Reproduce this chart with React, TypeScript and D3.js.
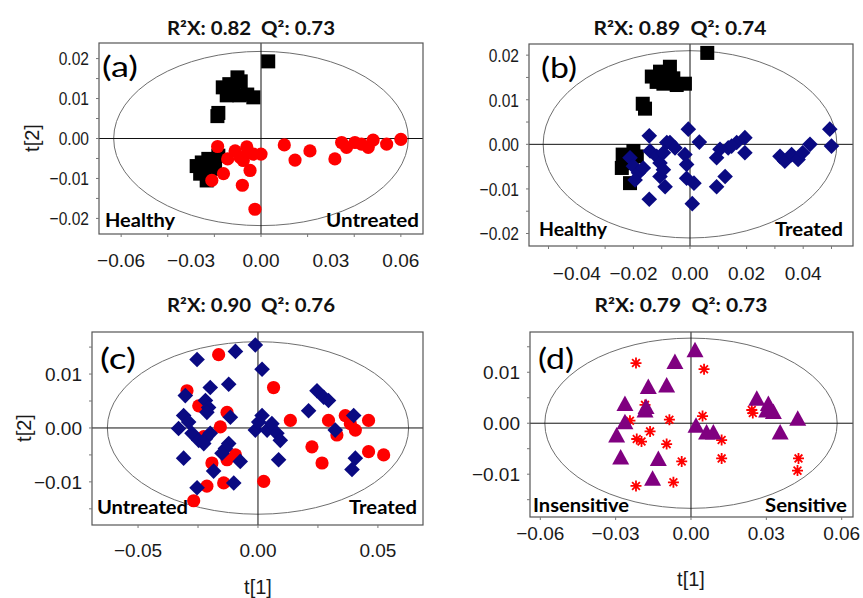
import React from "react";
import * as d3 from "d3";

type Pt = [number, number];

// Panel (a): Healthy vs Untreated
const aHealthy: Pt[] = [
  [0.0031, 0.0193], [-0.0164, 0.0128], [-0.0136, 0.0136], [-0.0101, 0.0153], [-0.0087, 0.0143],
  [-0.0126, 0.0122], [-0.0147, 0.0108], [-0.0093, 0.0108], [-0.0059, 0.011], [-0.0033, 0.0103],
  [-0.0119, 0.011], [-0.0187, 0.0056], [-0.0183, 0.0064],
  [-0.0276, -0.0069], [-0.0254, -0.006], [-0.0226, -0.0051], [-0.0204, -0.0064], [-0.024, -0.008],
  [-0.0261, -0.0088], [-0.0233, -0.0105], [-0.0197, -0.0076], [-0.0219, -0.0072], [-0.0183, -0.0043],
];
const aUntreated: Pt[] = [
  [-0.0186, -0.002], [-0.0143, -0.0051], [-0.0111, -0.0031], [-0.009, -0.0047], [-0.0061, -0.0021],
  [-0.0054, -0.0035], [-0.0033, -0.0039], [0.0, -0.0039], [-0.0047, -0.008], [-0.0161, -0.0088],
  [-0.0211, -0.0105], [-0.008, -0.0117], [-0.0026, -0.0177], [-0.0076, -0.0055], [0.01, -0.0016],
  [0.0146, -0.0054], [0.021, -0.0031], [0.0317, -0.0051], [0.0346, -0.001], [0.0367, -0.0022],
  [0.0403, -0.001], [0.0431, -0.0014], [0.046, -0.0022], [0.0481, -0.0004], [0.0539, -0.0014],
  [0.06, -0.0002],
];

// Panel (b): Healthy vs Treated
const bHealthy: Pt[] = [
  [0.0061, 0.0205], [-0.0135, 0.0152], [-0.0106, 0.0163], [-0.0071, 0.0174], [-0.0082, 0.0152],
  [-0.0118, 0.014], [-0.0094, 0.0136], [-0.0047, 0.0133], [-0.0018, 0.0136], [-0.0059, 0.0148],
  [-0.0167, 0.0091], [-0.0159, 0.008],
  [-0.0238, -0.0023], [-0.0224, -0.0042], [-0.0241, -0.0053], [-0.0206, -0.0034], [-0.0212, -0.0087],
  [-0.02, -0.0015], [-0.0188, -0.0027],
];
const bTreated: Pt[] = [
  [-0.0144, 0.0019], [-0.0141, -0.0015], [-0.0212, -0.003], [-0.02, -0.0049], [-0.0182, -0.0064],
  [-0.0194, -0.008], [-0.0165, -0.0053], [-0.0144, -0.0123], [-0.0118, -0.0027], [-0.0106, -0.0042],
  [-0.0094, -0.0019], [-0.0082, 0.0004], [-0.0071, 0.0004], [-0.0053, -0.0008], [-0.0106, -0.0072],
  [-0.0088, -0.0095], [-0.0094, -0.0057], [-0.0018, -0.0023], [-0.0012, -0.0045], [-0.0012, -0.0076],
  [0.0014, -0.0087], [0.0008, -0.0133], [-0.0006, 0.0034], [0.0033, 0.0005], [0.0094, -0.003],
  [0.0124, -0.0072], [0.0094, -0.0095], [0.0135, -0.0008], [0.0165, 0.0004], [0.0194, 0.0015],
  [0.0194, -0.0019], [0.0318, -0.0027], [0.0335, -0.0038], [0.0359, -0.0023], [0.0382, -0.0034],
  [0.0398, -0.0019], [0.0424, 0.0], [0.0494, 0.0034], [0.05, -0.0004], [0.0147, -0.0004],
  [0.0106, -0.0011],
];

// Panel (c): Untreated vs Treated
const cUntreated: Pt[] = [
  [-0.0164, 0.0136], [0.0065, 0.0075], [-0.0296, 0.0069], [-0.0247, 0.0041], [-0.0129, 0.0029],
  [-0.0157, 0.0002], [-0.0226, -0.0016], [-0.0094, -0.005], [-0.0129, -0.0059], [-0.0192, -0.0065],
  [-0.0143, -0.0102], [-0.0213, -0.0108], [-0.0268, -0.0135], [0.0024, -0.0099], [0.0135, 0.0014],
  [0.0225, -0.0035], [0.0267, -0.0065], [0.0294, 0.0014], [0.0329, -0.0013], [0.0364, 0.0023],
  [0.0385, 0.0008], [0.0406, -0.0004], [0.0461, 0.0014], [0.0461, -0.0044], [0.0524, -0.005],
];
const cTreated: Pt[] = [
  [-0.0011, 0.0154], [-0.0094, 0.0142], [-0.0254, 0.0127], [0.0017, 0.0109], [-0.0122, 0.0081],
  [-0.0199, 0.0075], [-0.0303, 0.006], [-0.0219, 0.0051], [-0.0206, 0.0038], [-0.0213, 0.0029],
  [-0.031, 0.0023], [-0.0115, 0.002], [-0.0331, -0.0001], [-0.0289, 0.0011], [-0.0275, -0.001],
  [-0.0247, -0.0023], [-0.0219, -0.002], [-0.0199, -0.001], [-0.0226, -0.0029], [-0.031, -0.0056],
  [-0.0122, -0.0029], [-0.0136, -0.0038], [-0.015, -0.0047], [-0.0074, -0.0062], [-0.0185, -0.008],
  [-0.0101, -0.0102], [-0.0254, -0.0111], [0.0017, 0.0023], [-0.0011, -0.0004], [0.0038, -0.0004],
  [0.0058, 0.0008], [0.0079, -0.001], [0.0093, -0.0023], [0.0086, -0.0059], [0.0003, 0.0011],
  [0.0246, 0.0069], [0.0211, 0.0032], [0.0274, 0.0057], [0.0294, 0.0051], [0.0322, -0.0004],
  [0.0399, 0.0023], [0.0406, -0.0056], [0.0392, -0.0077],
];

// Panel (d): Insensitive vs Sensitive
const dTriangles: Pt[] = [
  [0.0016, 0.0141], [-0.0064, 0.0118], [-0.017, 0.0069], [-0.0097, 0.0072], [-0.0263, 0.0036],
  [-0.0179, 0.003], [-0.0183, 0.0023], [-0.0263, 0.0], [-0.0296, -0.0026], [-0.028, -0.0069],
  [-0.013, -0.0072], [-0.0153, -0.0111], [0.002, -0.0007], [0.0062, -0.002], [0.0089, -0.002],
  [0.0262, 0.0046], [0.0308, 0.0036], [0.0301, 0.0023], [0.0328, 0.002], [0.0355, -0.002],
  [0.0425, 0.0007],
];
const dAsterisks: Pt[] = [
  [-0.0219, 0.0118], [0.0052, 0.0106], [-0.0183, 0.0036], [-0.0243, 0.0005], [-0.0086, 0.0007],
  [0.0046, 0.0014], [-0.0163, -0.0016], [-0.0216, -0.0031], [-0.0197, -0.0036], [-0.0097, -0.0041],
  [-0.0037, -0.0075], [-0.007, -0.0116], [-0.0219, -0.0123], [0.0122, -0.0033], [0.0122, -0.0069],
  [0.0242, 0.0026], [0.0246, 0.002], [0.0428, -0.0069], [0.0424, -0.0093],
];

// Axis ticks
const aXLabels = [-0.06, -0.03, 0, 0.03, 0.06];
const bXLabels = [-0.04, -0.02, 0, 0.02, 0.04];
const cXLabels = [-0.05, 0, 0.05];
const dXLabels = [-0.06, -0.03, 0, 0.03, 0.06];
const abYLabels = [0.02, 0.01, 0, -0.01, -0.02];
const cdYLabels = [0.01, 0, -0.01];

const titles = [
  ["0.82", "0.73"],
  ["0.89", "0.74"],
  ["0.90", "0.76"],
  ["0.79", "0.73"],
];

type Shape = "square" | "circle" | "diamond" | "triangle" | "asterisk";
interface Series { data: Pt[]; shape: Shape; color: string; }
interface PanelCfg {
  box: [number, number, number, number];
  xDomain: [number, number];
  yDomain: [number, number];
  xLabels: number[];
  xTickStep: number;
  yLabels: number[];
  yLabelScale: number;
  xLabelY: number;
  title: string[];
  titleX: number; titleY: number; titleLen: number;
  tag: string; tagX: number; tagY: number;
  left: string; leftX: number; leftLen: number;
  right: string; rightX: number; rightLen: number;
  cornerY: number;
  ell: [number, number];
  series: Series[];
  yTitle?: [number, number];
  xTitle?: [number, number];
}

const panels: PanelCfg[] = [
  {
    box: [99, 423, 43, 234], xDomain: [-0.0695, 0.0695], yDomain: [-0.0239, 0.0239],
    xLabels: aXLabels, xTickStep: 0.02, yLabels: abYLabels, yLabelScale: 0.82, xLabelY: 267,
    title: titles[0], titleX: 251, titleY: 35, titleLen: 168,
    tag: "(a)", tagX: 102, tagY: 77,
    left: "Healthy", leftX: 105, leftLen: 70, right: "Untreated", rightX: 419, rightLen: 93, cornerY: 227,
    ell: [0.0632, 0.0218],
    series: [
      { data: aHealthy, shape: "square", color: "#000000" },
      { data: aUntreated, shape: "circle", color: "#ff0000" },
    ],
    yTitle: [32, 138],
  },
  {
    box: [529, 853, 44, 246], xDomain: [-0.0569, 0.0576], yDomain: [-0.0228, 0.0225],
    xLabels: bXLabels, xTickStep: 0.01, yLabels: abYLabels, yLabelScale: 0.82, xLabelY: 280,
    title: titles[1], titleX: 680, titleY: 35, titleLen: 173,
    tag: "(b)", tagX: 541, tagY: 78,
    left: "Healthy", leftX: 539, leftLen: 68, right: "Treated", rightX: 843, rightLen: 68, cornerY: 236,
    ell: [0.0519, 0.021],
    series: [
      { data: bHealthy, shape: "square", color: "#000000" },
      { data: bTreated, shape: "diamond", color: "#0a0a82" },
    ],
  },
  {
    box: [92, 423, 332, 525], xDomain: [-0.0692, 0.0688], yDomain: [-0.018, 0.0178],
    xLabels: cXLabels, xTickStep: 0.025, yLabels: cdYLabels, yLabelScale: 1, xLabelY: 557,
    title: titles[2], titleX: 251, titleY: 312, titleLen: 168,
    tag: "(c)", tagX: 100, tagY: 369,
    left: "Untreated", leftX: 97, leftLen: 91, right: "Treated", rightX: 417, rightLen: 68, cornerY: 514,
    ell: [0.0628, 0.016],
    series: [
      { data: cUntreated, shape: "circle", color: "#ff0000" },
      { data: cTreated, shape: "diamond", color: "#0a0a82" },
    ],
    yTitle: [24, 428],
    xTitle: [258, 594],
  },
  {
    box: [530, 853, 332, 517], xDomain: [-0.0641, 0.0645], yDomain: [-0.0184, 0.0179],
    xLabels: dXLabels, xTickStep: 0.03, yLabels: cdYLabels, yLabelScale: 1, xLabelY: 540,
    title: titles[3], titleX: 681, titleY: 312, titleLen: 173,
    tag: "(d)", tagX: 538, tagY: 369,
    left: "Insensitive", leftX: 533, leftLen: 96, right: "Sensitive", rightX: 847, rightLen: 82, cornerY: 512,
    ell: [0.0582, 0.0167],
    series: [
      { data: dAsterisks, shape: "asterisk", color: "#ff0000" },
      { data: dTriangles, shape: "triangle", color: "#800080" },
    ],
    xTitle: [691, 586],
  },
];

const TICK_FONT = "'Liberation Sans', Arial, sans-serif";
const LABEL_FONT = "Lato, 'Open Sans', sans-serif";

function Marker({ shape, x, y, color }: { shape: Shape; x: number; y: number; color: string }) {
  if (shape === "square") {
    return <rect x={x - 7} y={y - 7} width={14} height={14} fill={color} />;
  }
  if (shape === "circle") {
    return <circle cx={x} cy={y} r={6.6} fill={color} />;
  }
  if (shape === "diamond") {
    const r = 7.8;
    return <path d={`M${x},${y - r}L${x + r},${y}L${x},${y + r}L${x - r},${y}Z`} fill={color} />;
  }
  if (shape === "triangle") {
    return <path d={`M${x},${y - 9.5}L${x + 8.5},${y + 6}L${x - 8.5},${y + 6}Z`} fill={color} />;
  }
  const r = 5.5;
  const d = [0, 45, 90, 135]
    .map((a) => {
      const t = (a * Math.PI) / 180;
      const dx = r * Math.cos(t), dy = r * Math.sin(t);
      return `M${x - dx},${y - dy}L${x + dx},${y + dy}`;
    })
    .join("");
  return <path d={d} stroke={color} strokeWidth={1.8} fill="none" />;
}

function Panel({ p }: { p: PanelCfg }) {
  const [x0, x1, y0, y1] = p.box;
  const xs = d3.scaleLinear().domain(p.xDomain).range([x0, x1]);
  const ys = d3.scaleLinear().domain(p.yDomain).range([y1, y0]);
  const xTicks = d3.range(Math.ceil(p.xDomain[0] / p.xTickStep), Math.floor(p.xDomain[1] / p.xTickStep) + 1).map((k) => k * p.xTickStep);
  const yTicks = d3.range(Math.ceil(p.yDomain[0] / 0.005), Math.floor(p.yDomain[1] / 0.005) + 1).map((k) => k * 0.005);
  const cx = xs(0), cy = ys(0);
  const rx = xs(p.ell[0]) - cx, ry = cy - ys(p.ell[1]);
  const fmt = d3.format(".2f");
  return (
    <g>
      {/* title */}
      <text x={p.titleX} y={p.titleY} textAnchor="middle" fontFamily={LABEL_FONT} fontWeight={700} fontSize={18}
        textLength={p.titleLen} lengthAdjust="spacingAndGlyphs" fill="#111" style={{ whiteSpace: "pre" }}>
        {`R²X: ${p.title[0]}  Q²: ${p.title[1]}`}
      </text>
      {/* ellipse */}
      <ellipse cx={cx} cy={cy} rx={rx} ry={ry} fill="none" stroke="#6e6e6e" strokeWidth={1} />
      {/* zero lines */}
      <line x1={x0} x2={x1} y1={cy} y2={cy} stroke="#111" strokeWidth={1} />
      <line x1={cx} x2={cx} y1={y0} y2={y1} stroke="#111" strokeWidth={1} />
      {/* points */}
      {p.series.map((s, si) => (
        <g key={si}>
          {s.data.map((d, i) => (
            <Marker key={i} shape={s.shape} x={xs(d[0])} y={ys(d[1])} color={s.color} />
          ))}
        </g>
      ))}
      {/* frame */}
      <rect x={x0} y={y0} width={x1 - x0} height={y1 - y0} fill="none" stroke="#555" strokeWidth={1.2} />
      {/* ticks */}
      {xTicks.map((t, i) => (
        <line key={"xt" + i} x1={xs(t)} x2={xs(t)} y1={y1} y2={y1 + 3} stroke="#777" strokeWidth={1} />
      ))}
      {yTicks.map((t, i) => (
        <line key={"yt" + i} x1={x0 - 3} x2={x0} y1={ys(t)} y2={ys(t)} stroke="#777" strokeWidth={1} />
      ))}
      {p.xLabels.map((t, i) => (
        <text key={"xl" + i} x={xs(t)} y={p.xLabelY} textAnchor="middle" fontFamily={TICK_FONT} fontSize={19} fill="#1a1a1a">
          {fmt(t === 0 ? 0 : t)}
        </text>
      ))}
      {p.yLabels.map((t, i) => (
        <text key={"yl" + i} transform={`translate(${x0 - 10},${ys(t)}) scale(${p.yLabelScale},1)`} dy="0.36em"
          textAnchor="end" fontFamily={TICK_FONT} fontSize={19} fill="#1a1a1a">
          {fmt(t === 0 ? 0 : t)}
        </text>
      ))}
      {/* tag */}
      <text x={p.tagX} y={p.tagY} fontFamily={LABEL_FONT} fontSize={29} fill="#000" textLength={36} lengthAdjust="spacingAndGlyphs">
        {p.tag}
      </text>
      {/* corner labels */}
      <text x={p.leftX} y={p.cornerY} fontFamily={LABEL_FONT} fontWeight={700} fontSize={19} fill="#000"
        textLength={p.leftLen} lengthAdjust="spacingAndGlyphs">{p.left}</text>
      <text x={p.rightX} y={p.cornerY} textAnchor="end" fontFamily={LABEL_FONT} fontWeight={700} fontSize={19} fill="#000"
        textLength={p.rightLen} lengthAdjust="spacingAndGlyphs">{p.right}</text>
      {p.yTitle && (
        <text transform={`translate(${p.yTitle[0]},${p.yTitle[1]}) rotate(-90)`} dy="0.35em" textAnchor="middle"
          fontFamily={TICK_FONT} fontSize={20} fill="#1a1a1a">t[2]</text>
      )}
      {p.xTitle && (
        <text x={p.xTitle[0]} y={p.xTitle[1]} textAnchor="middle" fontFamily={TICK_FONT} fontSize={20} fill="#1a1a1a">t[1]</text>
      )}
    </g>
  );
}

export default function App() {
  return (
    <svg width={863} height={598} viewBox="0 0 863 598"
      style={{ position: "absolute", left: 0, top: 0, background: "#fff" }}>
      <rect width={863} height={598} fill="#fff" />
      {panels.map((p, i) => (
        <Panel key={i} p={p} />
      ))}
    </svg>
  );
}
